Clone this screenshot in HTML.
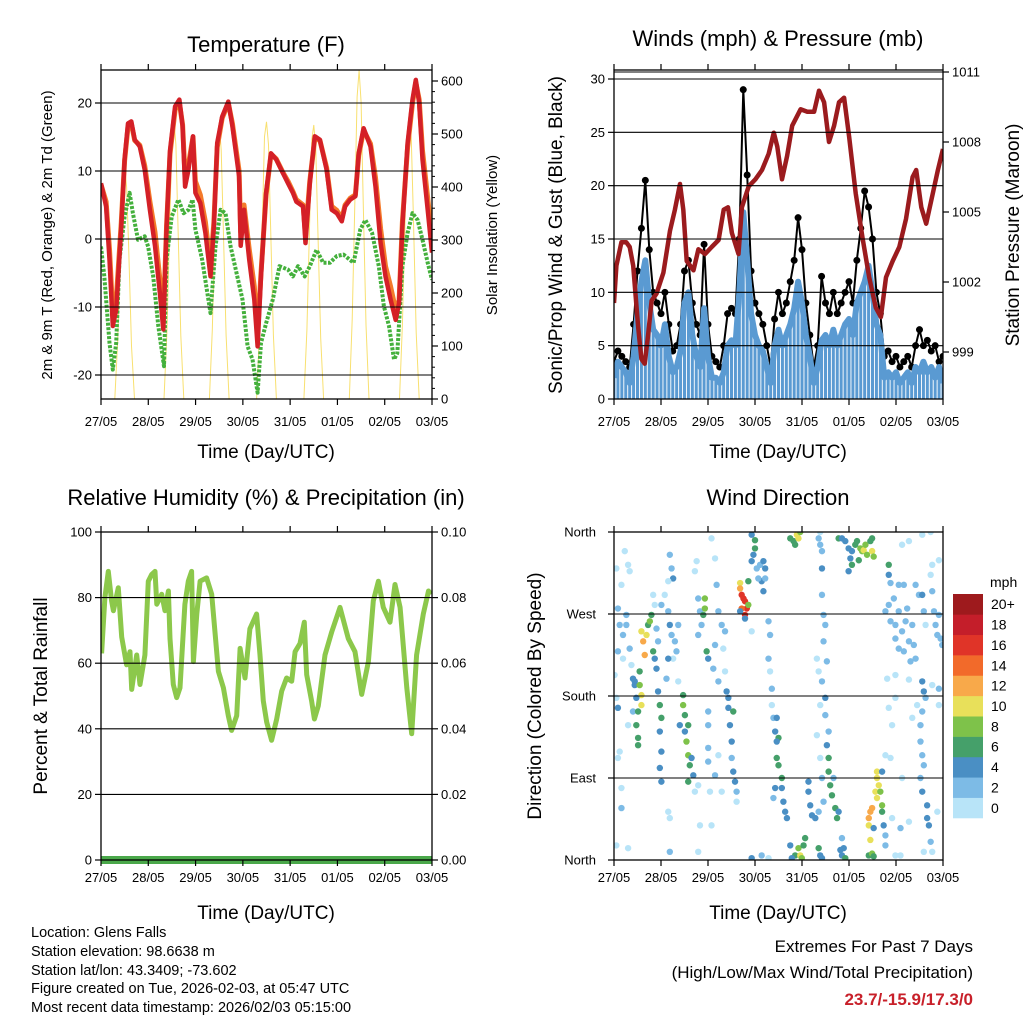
<!DOCTYPE html>
<html><head><meta charset="utf-8"><style>
html,body{margin:0;padding:0;background:#fff;}
svg{display:block;font-family:"Liberation Sans",sans-serif;}
</style></head><body>
<svg id="fig" width="1024" height="1024" viewBox="0 0 1024 1024" xmlns="http://www.w3.org/2000/svg">
<rect x="0" y="0" width="1024" height="1024" fill="#fff"/>
<defs>
<clipPath id="c1"><rect x="101" y="70" width="331" height="329"/></clipPath>
<clipPath id="c2"><rect x="614" y="70" width="329" height="329"/></clipPath>
<clipPath id="c3"><rect x="101" y="532" width="331" height="328"/></clipPath>
<clipPath id="c4"><rect x="614" y="532" width="329" height="328"/></clipPath>
</defs>
<g id="p1"></g>
<g id="p2"></g>
<g id="p3"></g>
<g id="p4"></g>
<g id="texts">
<text x="266" y="52" font-size="22" text-anchor="middle">Temperature (F)</text>
<text x="778" y="46" font-size="22" text-anchor="middle">Winds (mph) &amp; Pressure (mb)</text>
<text x="266" y="505" font-size="22" text-anchor="middle">Relative Humidity (%) &amp; Precipitation (in)</text>
<text x="778" y="505" font-size="22" text-anchor="middle">Wind Direction</text>
<text x="266" y="458" font-size="19" text-anchor="middle">Time (Day/UTC)</text>
<text x="778" y="458" font-size="19" text-anchor="middle">Time (Day/UTC)</text>
<text x="266" y="919" font-size="19" text-anchor="middle">Time (Day/UTC)</text>
<text x="778" y="919" font-size="19" text-anchor="middle">Time (Day/UTC)</text>
<text transform="translate(52,235) rotate(-90)" font-size="15" text-anchor="middle">2m &amp; 9m T (Red, Orange) &amp; 2m Td (Green)</text>
<text transform="translate(497,235) rotate(-90)" font-size="15" text-anchor="middle">Solar Insolation (Yellow)</text>
<text transform="translate(562,235) rotate(-90)" font-size="19" text-anchor="middle">Sonic/Prop Wind &amp; Gust (Blue, Black)</text>
<text transform="translate(1019,235) rotate(-90)" font-size="19" text-anchor="middle">Station Pressure (Maroon)</text>
<text transform="translate(47,696) rotate(-90)" font-size="19" text-anchor="middle">Percent &amp; Total Rainfall</text>
<text transform="translate(541,696) rotate(-90)" font-size="19" text-anchor="middle">Direction (Colored By Speed)</text>
<g font-size="14.5">
<text x="31" y="937">Location: Glens Falls</text>
<text x="31" y="956">Station elevation: 98.6638 m</text>
<text x="31" y="975">Station lat/lon: 43.3409; -73.602</text>
<text x="31" y="993">Figure created on Tue, 2026-02-03, at 05:47 UTC</text>
<text x="31" y="1012">Most recent data timestamp: 2026/02/03 05:15:00</text>
</g>
<text x="973" y="952" font-size="17" text-anchor="end">Extremes For Past 7 Days</text>
<text x="973" y="978" font-size="17" text-anchor="end">(High/Low/Max Wind/Total Precipitation)</text>
<text x="973" y="1005" font-size="17" font-weight="bold" fill="#c8202a" text-anchor="end">23.7/-15.9/17.3/0</text>
</g>
</svg>
<script>
// ---------- DATA ----------
var dayLabels = ["27/05","28/05","29/05","30/05","31/05","01/05","02/05","03/05"];
var tHours = [0,2.6,4.3,6,7.7,10.3,12,13.7,15.4,17.1,19.7,22.2,24.8,27.4,29.9,31.6,33.3,35,37.6,39.8,41.4,42.7,44.4,46.7,47.9,50.4,53,55.6,57.3,59,61.5,64.6,66.7,70.1,70.9,72.6,75.2,77.8,79.5,81.2,83.8,86.3,88.9,92.3,94.9,97.4,99.1,102.6,103.8,106,108.5,111.1,114.5,117.1,119.7,122.2,123.9,126.5,129.1,130.8,133.3,136.8,139.3,141.9,144.4,147,149.6,151.3,153,155.6,158.1,159.8,161.5,163.2,165.8,168];
var temp2m = [8.2,4.8,-3,-12.8,-10.4,1.9,11.7,17,17.3,14.6,13.6,10.2,4.3,-1,-8,-13.3,1.9,13,19.5,20.5,16.6,7.7,10.2,15.1,6.8,5.3,0.9,-5.5,1.9,14.1,18,20.2,16.6,9.2,-1,4.3,-3,-8.9,-15.8,-5.5,6.8,12.6,11.7,9.7,8.2,6.8,5.5,4.8,-0.6,8.2,15.1,14.6,10.2,4.3,3.8,2.6,4.8,5.8,6.3,12.6,16.3,13.6,7.7,-0.6,-5.5,-8.9,-11.9,-9.4,1.9,14.1,20.5,23.4,20,11.7,4.3,-2];
var temp9m = [8,5.5,-1.5,-11,-9,2.5,11.5,16.5,17,14.5,13.8,10.8,5.5,1,-6,-12,2,12.5,19,20,16.8,9,11,15,8.5,6.5,2.5,-4,2.5,13.5,17.8,20,17,10,1,5,-1.5,-7,-14,-5,6.5,12.5,11.8,9.8,8.5,7,5.8,5,0.5,8.5,14.8,14.5,10.5,4.8,4.2,3,5,6,6.5,12.3,16,14,9,1.5,-4,-7,-10.5,-9,2.5,13.5,20,23,20.5,13,6,0];
var dewHours = [0,1.7,4.3,6,7.7,9.4,12,14.5,16.2,18.8,22.2,23.9,26.5,29.1,32,33.3,35.9,39.3,41.9,44.4,46.5,47.9,51.3,55.6,58.1,60.7,63.2,65.8,69.2,71.8,74.4,76.9,79.5,81.2,83.8,87.2,90.6,94.9,97.4,100,103.4,106,109.4,112.8,116.2,119.7,123.1,128.2,131.6,134.2,137.6,141,143.6,146.2,148.7,150.4,153,155.6,158.1,160.7,163.2,165.8,168];
var dewpoint = [-1.1,-5.5,-15.3,-19.2,-15.3,-3,3.3,6.8,3.8,-0.1,0.4,-1.1,-5.5,-12.8,-18.7,-3,3.3,5.8,3.8,4.3,5.8,1.4,-3,-10.9,-1.1,4.3,3.8,-1.1,-5.5,-8.9,-15.8,-17.7,-22.6,-15.3,-12.4,-8.9,-4,-4.5,-5.5,-4,-5.5,-4,-1.6,-3.5,-3.5,-2.5,-2.3,-3.5,1.4,2.8,0.9,-4,-9.9,-12.8,-17.7,-16.8,-4,0.9,3.8,2.8,-0.1,-3.5,-6];
var solarHours = [0,7,8.5,10,11,12,13,14,15.5,17, 32,33.5,35,36,37,38,39,40.5,42, 55,56.5,58,59,60,61,62,63.5,65, 79,80.5,82,83,84,85,86,87.5,89, 103,104.5,106,107,108,109,110,111.5,113, 126,127.5,129,130,131,132,133,134.5,136, 151.5,153,154.5,155.5,156.5,157.5,158.5,160,161.5,168];
var solarVals = [0,0,110,300,420,440,400,290,100,0, 0,130,350,490,526,480,340,120,0, 0,130,350,490,520,470,330,120,0, 0,130,350,495,523,480,340,120,0, 0,130,345,490,517,470,330,115,0, 0,150,400,570,620,560,390,140,0, 0,140,360,500,533,490,350,125,0,0];
var windVals = [2,3.5,3,2.5,1.5,4,8,11,13,9,6.5,6,5,7,4,2.5,3,4.5,9,10,6,4,3,8.5,4,2,2,1.5,2.5,5,5.5,5,10,17.5,13,8,6,5,4.5,3,1.5,5,6.5,5,6,7,8.5,11,9,6,4,1.5,3,5.5,6,5,6.5,5,6,7,7.5,6,9,10,11,12.5,10,7,6,2,2.5,2,2.5,1.5,2,2.5,1.5,3,2.5,3.5,2.5,3,2,3,1.5];
var gustVals = [3.5,4.5,4,3.5,3,7,12,16,20.5,14,10,9,8,10,7,4.5,5,7,12,13,9,7,6,14.5,7,4,3.5,3,5,8,8.5,8,15,29,21,12,9,8,7,5,3,7.5,10,8,9,11,13,17,14,9,6,3,5,11.5,9,8,10,8,9,10,11,9,13,16,19.5,18,15,10,8,4,4.5,3.5,4,3,3.5,4,3,5,6.5,5,5.5,4.5,5,3.5,4];
var windStepHours = 2;
var presHours = [0,1.2,3.8,6.3,8,9.8,12.3,14,15.7,17.5,19.2,21.7,25.2,28.6,31.1,33.7,35.4,37.1,40.6,43.1,46.5,49.9,53.4,56,58.2,60.2,63.6,65.3,68.8,72.2,75.6,79,81.6,83.4,85.8,88.4,91,95.3,98.7,102.2,104.7,107.3,109.8,112.4,114.9,117.5,120.1,123.4,126.9,130.3,133.7,136.3,138.9,142.3,145.7,149.1,152.5,154.3,156.9,159.4,162,165.4,168];
var presVals = [1001.1,1002.7,1003.7,1003.7,1003.5,1002.7,1000.1,998.7,998.5,999.8,1001.2,1001.5,1002.4,1004.2,1005.1,1006.2,1005.1,1002.9,1002.5,1003.4,1003.2,1003.5,1003.8,1005.1,1005.2,1004.1,1003.2,1005.2,1006.1,1006.4,1006.8,1007.5,1008.4,1007.8,1006.4,1007.4,1008.7,1009.4,1009.3,1009.3,1010.2,1009.7,1008,1008.7,1009.7,1009.9,1008.2,1005.8,1003.9,1002.2,1000.9,1000.5,1002.2,1002.9,1003.5,1004.7,1006.5,1006.8,1005.2,1004.5,1005.5,1006.8,1007.7];
var rhHours = [0.3,2,3.7,5.4,6.3,8.8,10.5,13,14.7,15.6,18.1,19.8,22.3,24,25.7,27.4,28.3,30.8,32.5,34.2,35,36.7,38.4,40.1,42.6,44.3,46,46.9,48.6,50.3,53.6,56.2,59.6,62.1,64.6,66.3,68.9,70.6,73.1,75.6,79,80.7,82.4,84.1,86.6,89.2,91.7,94.2,96.8,98.5,101,103.2,104.4,106.9,108.3,110.3,113.7,117.1,121.3,125.5,128.9,132.3,135.7,138.2,140.8,143.3,146.7,149.2,151.8,155.2,157.7,160.2,163.6,166.2,167.5];
var rhVals = [63,80,88,79,76,83,68,59.5,63.5,52,62.5,53.5,62.5,85,87,88,78,81,76,82,67.5,53.5,49.5,52.5,78,85,88,60.5,75,85,86,81,57.5,52.5,44,39.5,44,64.5,55.5,70.5,75,62.5,48.5,42,36.5,43,51.5,55.5,54.5,63.5,66,72.5,56.5,48.5,43,47,62.5,69.5,77,67.5,63.5,50.5,60.5,79,85,77,72.5,84,77,52.5,38.5,62.5,75,82,81];
var precipHours = [0,168];
var precipVals = [0,0];
var dirHours = [1.2,2.0,2.9,4.6,3.8,5.5,7.2,8.0,6.3,2.0,4.6,0.3,1.2,2.0,2.9,3.8,3.8,1.2,7.2,6.3,8.0,8.9,9.7,10.6,9.7,7.2,2.0,
14.0,14.9,15.7,16.6,17.4,18.3,19.1,20.0,20.8,13.1,13.1,14.0,14.0,12.3,11.4,12.3,12.3,11.4,10.6,21.7,22.5,23.4,24.2,23.4,24.2,23.4,24.2,21.7,22.5,20.8,20.0,24.2,28.5,29.4,30.2,27.7,25.9,27.7,28.5,29.4,31.1,31.9,32.8,30.2,27.7,26.8,32.8,27.7,28.5,28.5,
35.3,35.3,36.2,37.9,37.0,37.9,38.7,37.9,40.5,39.6,33.6,36.2,41.3,42.2,41.3,43.0,43.9,44.7,43.0,46.4,46.4,45.6,47.3,48.1,48.1,48.1,48.1,48.1,49.0,43.0,43.9,43.0,49.8,51.6,52.4,53.3,55.0,56.7,51.6,50.7,53.3,56.7,55.8,
57.5,58.4,59.2,60.1,60.1,60.9,61.8,62.6,58.4,60.9,62.6,55.0,51.6,53.3,49.8,
64.4,64.4,65.2,66.1,66.9,67.8,65.2,66.9,68.6,68.6,66.9,64.4,
70.3,72.0,72.0,71.2,70.3,72.9,74.6,76.3,77.2,75.4,76.3,77.2,73.7,70.3,78.9,79.7,78.9,79.7,80.6,80.6,81.4,83.1,82.3,84.0,83.1,84.0,85.7,85.7,86.5,87.4,88.3,82.3,81.4,83.1,70.3,75.4,78.9,
90.0,91.7,93.4,94.2,92.5,95.1,90.0,92.5,94.2,95.1,96.8,97.6,90.8,95.9,
99.3,99.3,100.2,101.1,102.8,104.5,105.3,106.2,107.0,103.6,105.3,106.2,107.0,106.2,107.0,107.9,103.6,104.5,108.7,107.9,107.9,109.6,108.7,109.6,109.6,110.4,111.3,113.0,113.9,114.7,112.1,104.5,105.3,106.2,106.2,105.3,104.5,105.3,106.2,116.4,118.1,117.3,115.6,116.4,
114.7,116.4,118.1,119.8,121.5,123.2,124.1,125.8,126.7,127.5,128.4,129.2,130.9,131.8,132.6,131.8,120.7,121.5,119.8,125.0,140.3,140.3,141.2,
134.3,134.3,135.2,133.5,134.3,136.0,136.9,136.9,130.9,130.1,131.8,130.1,130.9,130.1,131.8,132.6,132.6,137.7,138.6,138.6,136.9,141.2,142.0,143.7,146.3,
138.6,140.3,141.2,142.9,143.7,145.4,147.1,148.9,149.7,150.6,152.3,153.1,154.0,155.7,157.4,158.2,159.1,162.5,163.4,164.2,165.1,165.9,166.8,167.6,161.7,162.5,165.9,150.6,147.1,157.4,161.7,145.4,148.0,154.0,143.7,145.4,148.0,151.4,139.5,143.7,150.6,157.4,158.2,159.1,157.4,156.5,156.5,157.4,158.2,156.5,157.4,159.9,159.9,160.8,161.7,158.2,162.5,165.1,165.9,165.9,162.5,154.8,152.3,150.6,147.1,140.3,138.6,142.0,143.7,146.3];
var dirDegrees = [320,276,258,247,302,339,324,317,269,229,221,203,178,167,119,79,57,16,13,258,232,214,199,192,163,148,112,
251,240,225,247,258,262,269,229,221,207,192,181,170,163,148,134,126,178,196,210,185,170,156,141,119,101,86,254,240,280,291,280,335,320,309,306,291,273,258,247,240,229,258,221,221,199,196,53,46,9,
181,170,159,148,130,115,104,86,93,112,148,141,75,328,317,287,273,258,247,287,276,269,229,221,163,148,123,108,75,82,38,9,353,331,302,273,258,251,236,210,196,207,232,
185,167,148,130,112,97,86,75,178,163,64,75,93,115,38,
304,298,291,287,284,276,276,269,280,306,265,273,
357,351,342,335,328,320,324,328,320,306,295,309,309,251,262,247,221,207,188,170,156,156,141,134,112,104,90,79,64,53,46,79,68,130,2,5,2,
353,350,357,353,346,360,16,5,13,5,16,24,2,2,
86,75,60,49,46,53,112,90,64,137,170,196,240,291,269,258,221,207,218,178,159,141,126,112,97,82,71,57,46,53,90,353,346,339,320,360,13,5,2,5,2,13,11,24,
353,353,350,342,339,346,350,342,339,340,346,335,350,339,333,353,331,324,317,329,324,313,304,
97,90,82,75,68,75,60,53,53,46,57,38,22,5,7,4,35,38,27,16,97,112,46,5,35,
273,280,262,287,258,273,251,262,276,240,258,236,221,291,291,273,258,295,273,258,247,269,243,236,313,324,329,350,346,357,360,302,302,302,243,232,229,218,199,203,198,196,185,178,163,148,130,115,104,90,75,60,46,38,20,9,9,53,170,188,192,170,156,42,90,167,115,148,178,5];
var dirSpeeds = [1,2,3,2,1,1,1,1,3,2,1,1,1,4,1,1,3,1,1,3,2,1,4,4,3,1,1,
11,13,13,11,7,8,7,7,5,7,8,10,10,7,7,7,7,5,4,4,4,7,7,4,4,4,4,3,2,1,1,2,2,3,4,1,1,3,4,3,3,3,2,1,4,2,1,1,1,2,
7,8,7,7,9,8,7,7,4,4,4,4,1,1,1,3,3,3,2,8,8,7,6,4,3,2,2,2,1,1,1,1,1,1,2,2,3,2,2,2,2,1,1,
4,4,5,4,3,4,5,3,5,6,1,1,2,1,1,
10,12,16,16,17,16,14,17,8,6,4,5,
4,7,7,4,4,3,2,4,4,4,4,2,2,1,3,3,2,1,3,1,3,4,5,7,7,6,6,5,4,4,4,4,3,4,4,2,1,
7,7,10,10,7,9,4,7,8,10,7,6,4,8,
4,4,4,4,4,3,1,2,2,1,1,2,2,2,3,2,1,1,3,4,3,3,4,7,7,7,7,7,7,4,3,2,2,2,4,1,7,4,4,4,7,4,4,2,
7,4,4,4,4,7,7,8,8,10,8,8,7,10,8,7,4,6,4,6,7,4,3,
10,10,10,10,10,8,8,7,13,13,12,10,10,7,8,7,4,4,3,2,4,1,1,1,2,
2,3,2,2,3,3,2,3,3,2,3,3,2,2,4,2,1,2,3,3,3,2,2,2,1,1,1,1,1,1,1,2,2,2,2,2,2,2,1,1,1,4,4,3,3,2,2,2,2,2,4,4,4,4,2,1,1,1,1,2,1,1,1,1,1,1,1,1,1,1];
var speedColors = ["#b8e4f8","#7dbbe6","#4a8fc4","#45a06a","#7ec24a","#e8e05a","#f8a94a","#f26a2a","#e03428","#c41e2a","#9e1a1d"];
var speedLabels = ["0","2","4","6","8","10","12","14","16","18","20+"];
var tempTicks = [20,10,0,-10,-20];
var solarTicks = [0,100,200,300,400,500,600];
var windTicks = [0,5,10,15,20,25,30];
var presTicks = [999,1002,1005,1008,1011];
var rhTicks = [0,20,40,60,80,100];
var rainTicks = ["0.00","0.02","0.04","0.06","0.08","0.10"];
var dirTicks = [0,90,180,270,360];
var dirLabels = ["North","East","South","West","North"];

// ---------- HELPERS ----------
var NS = "http://www.w3.org/2000/svg";
function mk(parent, tag, attrs){
  var e = document.createElementNS(NS, tag);
  for (var k in attrs) e.setAttribute(k, attrs[k]);
  parent.appendChild(e);
  return e;
}
function lin(d0,d1,r0,r1){ return function(v){ return r0 + (v-d0)*(r1-r0)/(d1-d0); }; }
function pathFrom(xs, ys, fx, fy){
  var n = Math.min(xs.length, ys.length), s = "";
  for (var i=0;i<n;i++) s += (i?"L":"M") + fx(xs[i]).toFixed(1) + "," + fy(ys[i]).toFixed(1);
  return s;
}
function frame(g, x0, y0, w, h, name){
  var r = mk(g, "rect", {x:x0, y:y0, width:w, height:h, fill:"none", stroke:"#000", "stroke-width":1.3});
  
  
}
function xAxis(g, fx, y0, y1, labY){
  for (var d=0; d<dayLabels.length; d++){
    var x = fx(d*24);
    var t1 = mk(g, "line", {x1:x, y1:y1, x2:x, y2:y1+6, stroke:"#000", "stroke-width":1.2});
    
    
    var t2 = mk(g, "line", {x1:x, y1:y0, x2:x, y2:y0-6, stroke:"#000", "stroke-width":1.2});
    
    
    var tx = mk(g, "text", {x:x, y:labY, "font-size":13, "text-anchor":"middle"});
    tx.textContent = dayLabels[d];
    
    
  }
}
function hGrid(g, ys, x0, x1, name){
  ys.forEach(function(y){
    var l = mk(g, "line", {x1:x0, y1:y, x2:x1, y2:y, stroke:"#000", "stroke-width":1.1});
    
    
  });
}
function yLabels(g, vals, labels, fy, x, anchor, side, name){
  vals.forEach(function(v,i){
    var y = fy(v);
    var tk = mk(g, "line", {x1:x, y1:y, x2:x+(side<0?-6:6), y2:y, stroke:"#000", "stroke-width":1.2});
    
    
    var t = mk(g, "text", {x:x+(side<0?-9:9), y:y+4.5, "font-size":13, "text-anchor":anchor});
    t.textContent = labels[i];
    
    
  });
}

// ---------- PANEL 1: TEMPERATURE ----------
(function(){
  var g = document.getElementById("p1");
  var fx = lin(0,168,101,432), fy = lin(0,10,239,171), fs = lin(0,600,399,81);
  var d = mk(g, "g", {"clip-path":"url(#c1)"});
  var sp = mk(d, "path", {d:pathFrom(solarHours, solarVals, fx, fs), fill:"none", stroke:"#f8e070", "stroke-width":1});
  
  
  var op = mk(d, "path", {d:pathFrom(tHours, temp9m, fx, fy), fill:"none", stroke:"#f47a2a", "stroke-width":5, "stroke-linejoin":"round"});
  
  
  var gp = mk(d, "path", {d:pathFrom(dewHours, dewpoint, fx, fy), fill:"none", stroke:"#44b03c", "stroke-width":4, "stroke-dasharray":"3 1.5", "stroke-linejoin":"round"});
  
  
  var rp = mk(d, "path", {d:pathFrom(tHours, temp2m, fx, fy), fill:"none", stroke:"#d42027", "stroke-width":4.5, "stroke-linejoin":"round"});
  
  
  hGrid(g, tempTicks.map(fy), 101, 432, 'temp-gridline');
  frame(g, 101, 70, 331, 329, 'temp-plot-frame');
  yLabels(g, tempTicks, tempTicks.map(String), fy, 101, "end", -1, 'temp-y');
  yLabels(g, solarTicks, solarTicks.map(String), fs, 432, "start", 1, 'solar-y');
  for (var v=20; v<600; v+=20){ if (v%100===0) continue;
    var m = mk(g, "line", {x1:432, y1:fs(v), x2:435, y2:fs(v), stroke:"#000", "stroke-width":1});
    
    
  }
  xAxis(g, fx, 70, 399, 426);
})();

// ---------- PANEL 2: WINDS & PRESSURE ----------
(function(){
  var g = document.getElementById("p2");
  var fx = lin(0,168,614,943), fy = lin(0,30,399,79), fp = lin(999,1011,352,72);
  var d = mk(g, "g", {"clip-path":"url(#c2)"});
  var wh = windVals.map(function(v,i){ return i*windStepHours; });
  var gk = mk(d, "path", {d:pathFrom(wh, gustVals, fx, fy), fill:"none", stroke:"#000", "stroke-width":2, "stroke-linejoin":"round"});
  
  
  gustVals.forEach(function(v,i){
    var c = mk(d, "circle", {cx:fx(wh[i]), cy:fy(v), r:3.5, fill:"#000"});
    
    
  });
  windVals.forEach(function(v,i){
    var b = mk(d, "line", {x1:fx(wh[i]), y1:fy(0), x2:fx(wh[i]), y2:fy(v), stroke:"#5a9ad2", "stroke-width":3});
    
    
  });
  var wb = mk(d, "path", {d:pathFrom(wh, windVals, fx, fy), fill:"none", stroke:"#5a9ad2", "stroke-width":6, "stroke-linejoin":"round"});
  
  
  var pp = mk(d, "path", {d:pathFrom(presHours, presVals, fx, fp), fill:"none", stroke:"#9b1b1e", "stroke-width":4.5, "stroke-linejoin":"round"});
  
  
  hGrid(g, windTicks.map(fy), 614, 943, 'wind-gridline');
  hGrid(g, [fp(1011)], 614, 943, 'pressure-gridline');
  frame(g, 614, 70, 329, 329, 'wind-plot-frame');
  yLabels(g, windTicks, windTicks.map(String), fy, 614, "end", -1, 'wind-y');
  yLabels(g, presTicks, presTicks.map(String), fp, 943, "start", 1, 'pressure-y');
  xAxis(g, fx, 70, 399, 426);
})();

// ---------- PANEL 3: RH & PRECIP ----------
(function(){
  var g = document.getElementById("p3");
  var fx = lin(0,168,101,432), fy = lin(0,100,860,532), fr = lin(0,0.1,860,532);
  var d = mk(g, "g", {"clip-path":"url(#c3)"});
  var rp = mk(d, "path", {d:pathFrom(rhHours, rhVals, fx, fy), fill:"none", stroke:"#8cc84b", "stroke-width":5, "stroke-linejoin":"round"});
  
  
  hGrid(g, rhTicks.map(fy), 101, 432, 'rh-gridline');
  var pr = mk(g, "path", {d:pathFrom(precipHours, precipVals, fx, fr), fill:"none", stroke:"#4aa84a", "stroke-width":8});
  
  
  frame(g, 101, 532, 331, 328, 'rh-plot-frame');
  yLabels(g, rhTicks, rhTicks.map(String), fy, 101, "end", -1, 'rh-y');
  yLabels(g, rainTicks.map(Number), rainTicks, fr, 432, "start", 1, 'rain-y');
  xAxis(g, fx, 532, 860, 882);
})();

// ---------- PANEL 4: WIND DIRECTION ----------
(function(){
  var g = document.getElementById("p4");
  var fx = lin(0,168,614,943), fy = lin(0,360,860,532);
  var d = mk(g, "g", {"clip-path":"url(#c4)"});
  var n = Math.min(dirHours.length, dirDegrees.length, dirSpeeds.length);
  for (var i=0;i<n;i++){
    var ci = Math.min(10, Math.floor(dirSpeeds[i]/2));
    var c = mk(d, "circle", {cx:fx(dirHours[i]), cy:fy(dirDegrees[i]), r:3.2, fill:speedColors[ci]});
    
    
  }
  hGrid(g, dirTicks.map(fy), 614, 943, 'dir-gridline');
  frame(g, 614, 532, 329, 328, 'dir-plot-frame');
  dirTicks.forEach(function(v,i){
    var y = fy(v);
    var tk = mk(g, "line", {x1:614, y1:y, x2:608, y2:y, stroke:"#000", "stroke-width":1.2});
    
    
    var t = mk(g, "text", {x:596, y:y+4.5, "font-size":13, "text-anchor":"end"});
    t.textContent = dirLabels[i];
    
    
  });
  xAxis(g, fx, 532, 860, 882);
  // colorbar
  var cb = mk(g, "g", {});
  
  
  var bh = 224/speedColors.length;
  speedColors.forEach(function(col, k){
    var y = 818 - (k+1)*bh;
    var r = mk(cb, "rect", {x:953, y:y, width:30, height:bh+0.3, fill:col});
    
    
    var t = mk(cb, "text", {x:991, y:y+bh/2+5, "font-size":14});
    t.textContent = speedLabels[k];
    
    
  });
  var u = mk(cb, "text", {x:990, y:587, "font-size":14});
  u.textContent = "mph";
  
  
})();
</script>
</body></html>
